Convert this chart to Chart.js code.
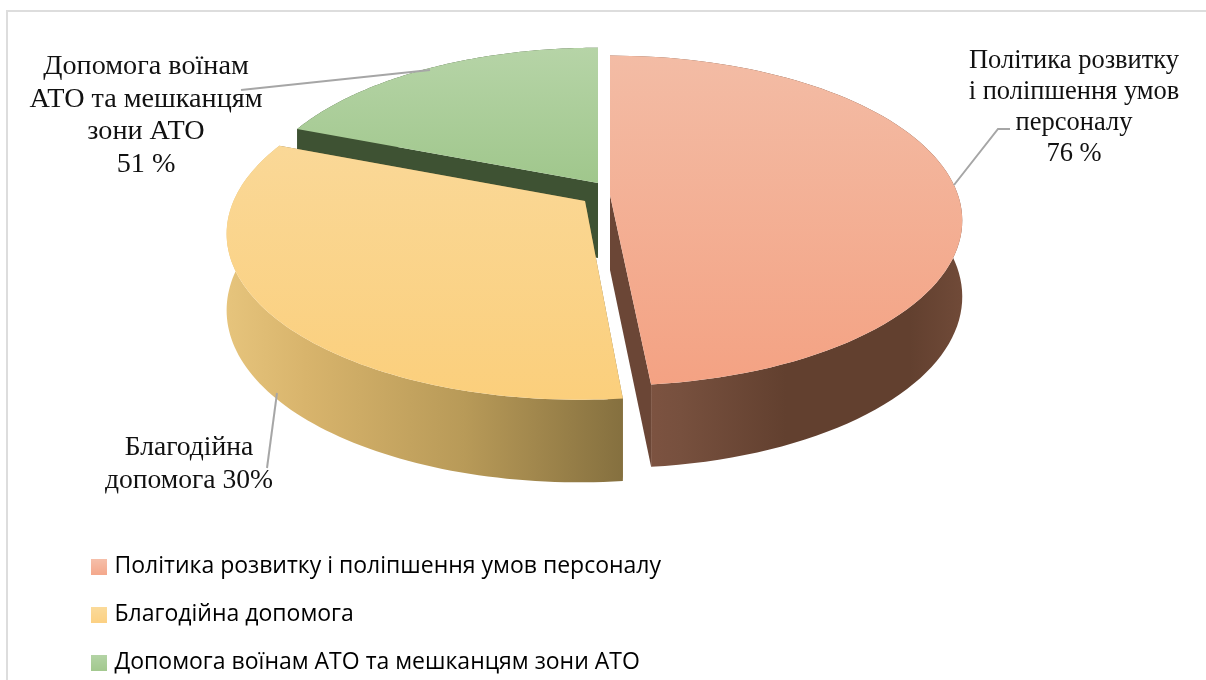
<!DOCTYPE html>
<html>
<head>
<meta charset="utf-8">
<style>
  html, body { margin: 0; padding: 0; background: #fff; }
  canvas { display: block; }
</style>
<script src="https://cdn.jsdelivr.net/npm/chart.js@4"></script>
</head>
<body>
<canvas id="chartPie" width="1206" height="680"></canvas>
<script>
const categories = [
  "Політика розвитку і поліпшення умов персоналу",
  "Благодійна допомога",
  "Допомога воїнам АТО та мешканцям зони АТО",
];
// slice sizes as drawn; the printed labels on the two smaller slices are swapped in the source
const sliceValues = [76, 51, 30];
const sliceLabels = [
  ["Політика розвитку", "і поліпшення умов", "персоналу", "76 %"],
  ["Благодійна", "допомога 30%"],
  ["Допомога воїнам", "АТО та мешканцям", "зони АТО", "51 %"],
];
const legendColors = [
  ["#F6C0AB", "#F4A88C"],
  ["#FBDB9B", "#FCD183"],
  ["#B4D4A6", "#A3C98F"],
];

function legendBox(colors) {
  const c = document.createElement("canvas");
  c.width = 16;
  c.height = 16;
  const g = c.getContext("2d");
  const grad = g.createLinearGradient(0, 0, 0, 16);
  grad.addColorStop(0, colors[0]);
  grad.addColorStop(1, colors[1]);
  g.fillStyle = grad;
  g.fillRect(0, 0, 16, 16);
  return c;
}

// look of the tilted pie
const view = { cx: 596, cy: 196, rx: 348, ry: 161, depth: 75 };
const sliceLook = [
  {
    shift: [14, -1],
    persp: 0.155,
    scale: 1,
    lean: 0,
    top: ["#F3BCA5", "#F4A283"],
    wall: "#6B4636",
    side: [[0, "#835644"], [0.2, "#77503E"], [0.5, "#62402F"], [0.85, "#62402F"], [1, "#704A38"]],
  },
  {
    shift: [-11, 5],
    persp: 0.18,
    scale: 1.01,
    lean: -5,
    top: ["#FAD897", "#FBCF7C"],
    wall: "#8A7544",
    side: [[0, "#E6C47C"], [0.2, "#D8B46C"], [0.6, "#B89A58"], [1, "#85703F"]],
  },
  {
    shift: [2, -13],
    persp: 0.175,
    scale: 0.985,
    lean: 0,
    top: ["#B6D4A7", "#A0C78C"],
    wall: "#3E5233",
    side: [[0, "#3E5233"], [1, "#3E5233"]],
  },
];
const drawOrder = [2, 0, 1];

function project(a, r, look, down) {
  const u = Math.cos(a) * r * look.scale;
  const v = Math.sin(a) * r * look.scale;
  const s = 1 / (1 - look.persp * v);
  const x = view.cx + look.shift[0] + view.rx * u * s + look.lean * v;
  let y = view.cy + look.shift[1] + view.ry * v * s;
  if (down) y += view.depth * (1 + 0.1 * v);
  return [x, y];
}

function fillPoly(ctx, pts, fill) {
  ctx.beginPath();
  pts.forEach((p, i) => (i ? ctx.lineTo(p[0], p[1]) : ctx.moveTo(p[0], p[1])));
  ctx.closePath();
  ctx.fillStyle = fill;
  ctx.fill();
}

function drawSlice(ctx, arc, look) {
  const p = arc.getProps(["startAngle", "endAngle"], true);
  const topArc = [];
  const lowArc = [];
  const steps = 90;
  for (let i = 0; i <= steps; i++) {
    const a = p.startAngle + ((p.endAngle - p.startAngle) * i) / steps;
    topArc.push(project(a, 1, look, false));
    lowArc.push(project(a, 1, look, true));
  }
  const apex = project(0, 0, look, false);
  const apexLow = project(0, 0, look, true);

  // radial walls
  fillPoly(ctx, [apex, topArc[0], lowArc[0], apexLow], look.wall);
  fillPoly(ctx, [apex, topArc[steps], lowArc[steps], apexLow], look.wall);

  // outer side
  const xs = topArc.map((q) => q[0]);
  const minX = Math.min(...xs);
  const maxX = Math.max(...xs);
  const sideGrad = ctx.createLinearGradient(minX, 0, maxX, 0);
  look.side.forEach((s) => sideGrad.addColorStop(s[0], s[1]));
  fillPoly(ctx, topArc.concat(lowArc.slice().reverse()), sideGrad);

  // top face
  const ys = topArc.map((q) => q[1]).concat(apex[1]);
  const topGrad = ctx.createLinearGradient(0, Math.min(...ys), 0, Math.max(...ys));
  topGrad.addColorStop(0, look.top[0]);
  topGrad.addColorStop(1, look.top[1]);
  fillPoly(ctx, [apex].concat(topArc), topGrad);
}

const pie3d = {
  id: "pie3d",
  beforeDatasetDraw(chart, args) {
    const ctx = chart.ctx;
    const arcs = chart.getDatasetMeta(args.index).data;
    ctx.save();
    drawOrder.forEach((i) => drawSlice(ctx, arcs[i], sliceLook[i]));
    ctx.restore();
    return false;
  },
};

const labelBoxes = [
  { x: 1074, y: 61.5, step: 31, size: 26.5 },
  { x: 189, y: 448, step: 33, size: 27.6 },
  { x: 146, y: 67, step: 32.5, size: 28.2 },
];
const leaderLines = [
  [[1010, 129], [998, 129], [954, 185]],
  [[277, 393], [267, 468]],
  [[241, 90], [430, 70]],
];

const pieLabels = {
  id: "pieLabels",
  afterDraw(chart) {
    const ctx = chart.ctx;
    ctx.save();
    // frame of the source picture
    ctx.strokeStyle = "#DDDDDD";
    ctx.lineWidth = 2;
    ctx.strokeRect(7, 11, 1400, 800);

    ctx.fillStyle = "#111";
    ctx.textAlign = "center";
    ctx.textBaseline = "middle";
    sliceLabels.forEach((lines, i) => {
      const b = labelBoxes[i];
      ctx.font = b.size + "px 'Liberation Serif'";
      lines.forEach((t, k) => ctx.fillText(t, b.x, b.y + k * b.step));
    });

    ctx.strokeStyle = "#A6A6A6";
    ctx.lineWidth = 2;
    leaderLines.forEach((pts) => {
      ctx.beginPath();
      pts.forEach((q, i) => (i ? ctx.lineTo(q[0], q[1]) : ctx.moveTo(q[0], q[1])));
      ctx.stroke();
    });
    ctx.restore();
  },
};

new Chart(document.getElementById("chartPie"), {
  type: "pie",
  data: {
    labels: categories,
    datasets: [
      {
        label: "Витрати",
        data: sliceValues,
        backgroundColor: legendColors.map((c) => c[1]),
      },
    ],
  },
  options: {
    responsive: false,
    animation: false,
    events: [],
    layout: { padding: { left: 70, right: 400, top: 0, bottom: -4 } },
    plugins: {
      tooltip: { enabled: false },
      title: { display: false },
      legend: {
        position: "bottom",
        align: "start",
        labels: {
          usePointStyle: true,
          pointStyleWidth: 8,
          pointStyle: "rect",
          padding: 25,
          color: "#111",
          font: { family: "'Open Sans'", size: 23 },
          generateLabels(chart) {
            return categories.map((text, i) => ({
              text,
              index: i,
              pointStyle: legendBox(legendColors[i]),
              fillStyle: legendColors[i][1],
              strokeStyle: legendColors[i][1],
              lineWidth: 0,
              hidden: false,
            }));
          },
        },
      },
    },
  },
  plugins: [pie3d, pieLabels],
});
</script>
</body>
</html>
